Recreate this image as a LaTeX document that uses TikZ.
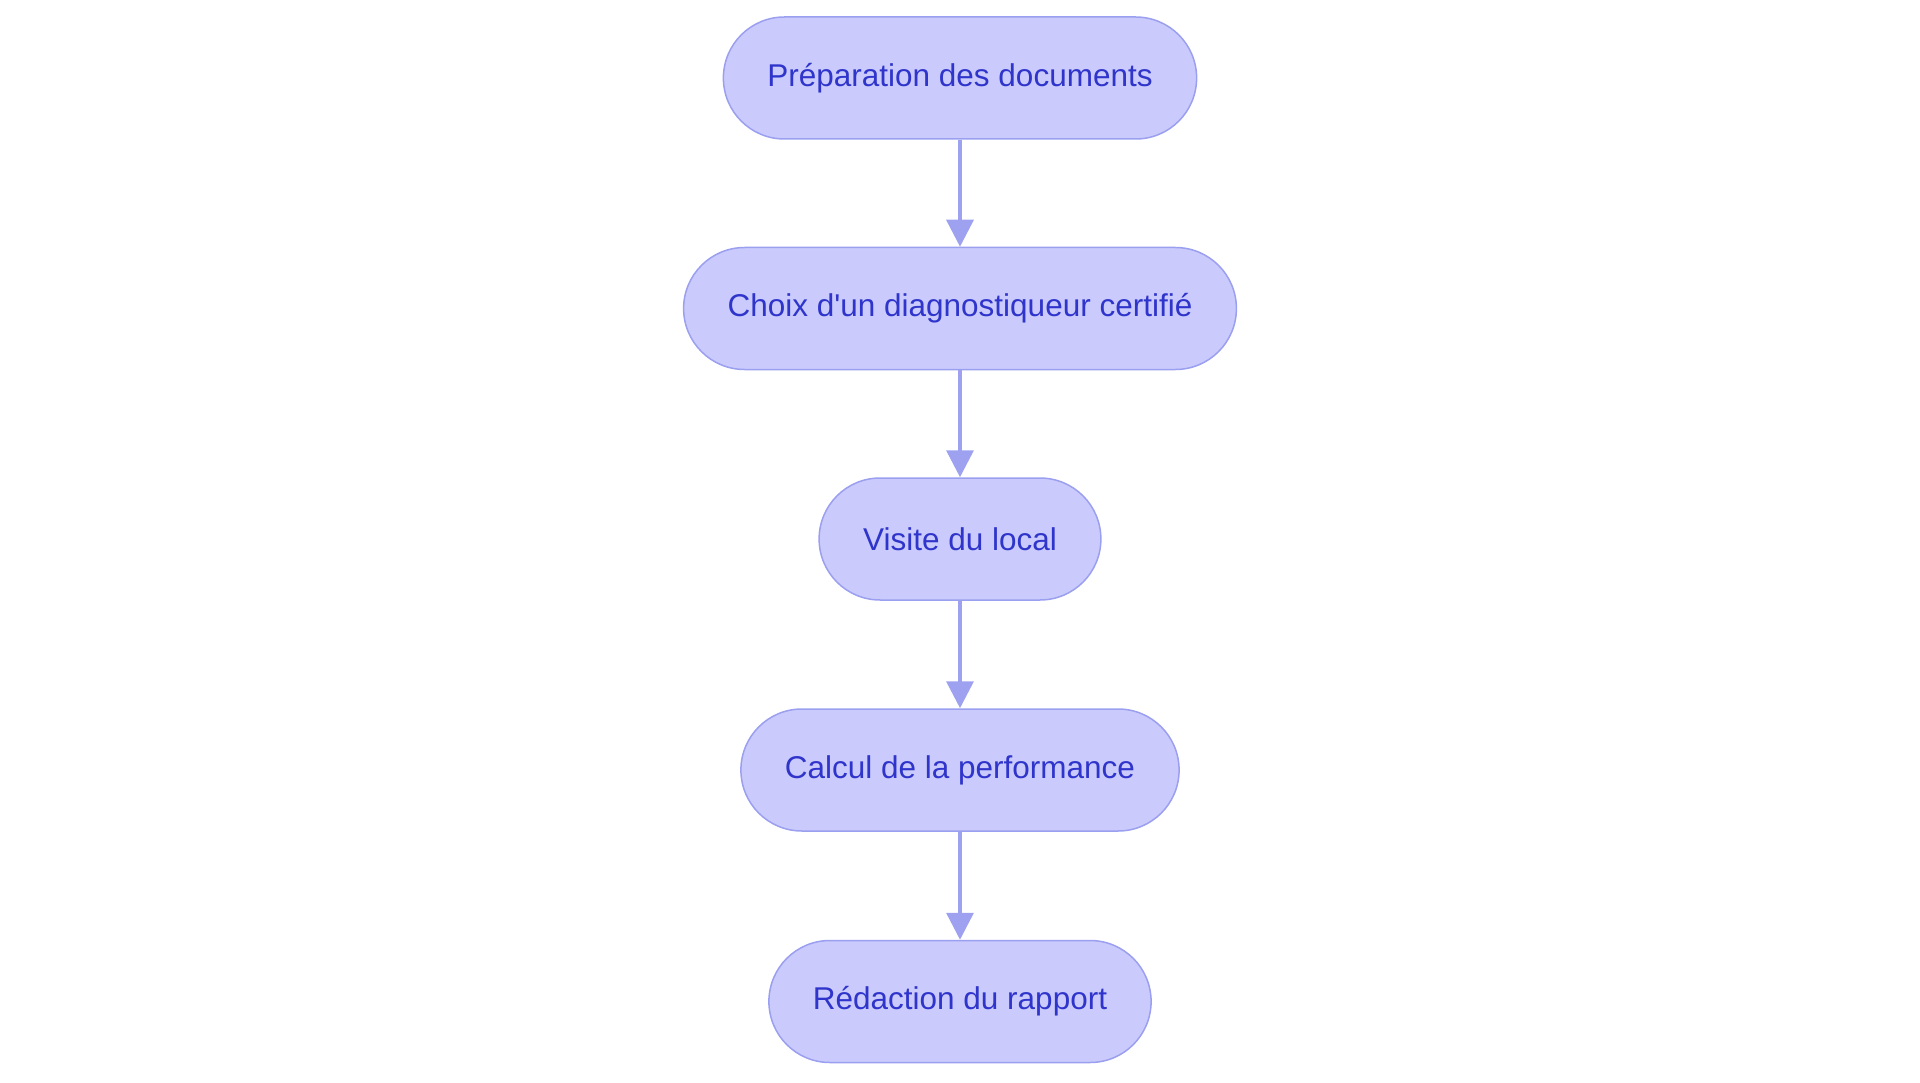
\documentclass[tikz,border=0pt]{standalone}
\usepackage{fontspec}
\setmainfont{Liberation Sans}
\usepackage{tikz}
\usetikzlibrary{arrows.meta}
\definecolor{boxfill}{HTML}{CACBFC}
\definecolor{boxline}{HTML}{9B9FEF}
\definecolor{boxtext}{HTML}{2F34CB}
\definecolor{arrowline}{HTML}{9DA1F0}
\tikzset{
  etape/.style={draw=boxline,line width=1.5pt,fill=boxfill,text=boxtext,
    rounded corners=61pt,minimum height=122pt,inner xsep=44pt,
    font=\fontsize{31.5}{38}\selectfont},
  fleche/.style={draw=arrowline,line width=3.5pt,
    -{Triangle[length=27pt,width=27pt]}}
}
\begin{document}
\begin{tikzpicture}[x=1pt,y=1pt]
\useasboundingbox (0,0) rectangle (1920,-1083);
\node[etape] (prep) at (960,-78) {Préparation des documents};
\node[etape] (choix) at (960,-308.5) {Choix d\textquotesingle un diagnostiqueur certifié};
\node[etape] (visite) at (960,-539) {Visite du local};
\node[etape] (calcul) at (960,-770) {Calcul de la performance};
\node[etape] (redac) at (960,-1001.5) {Rédaction du rapport};
\draw[fleche] (prep) -- (choix);
\draw[fleche] (choix) -- (visite);
\draw[fleche] (visite) -- (calcul);
\draw[fleche] (calcul) -- (redac);
\end{tikzpicture}
\end{document}
